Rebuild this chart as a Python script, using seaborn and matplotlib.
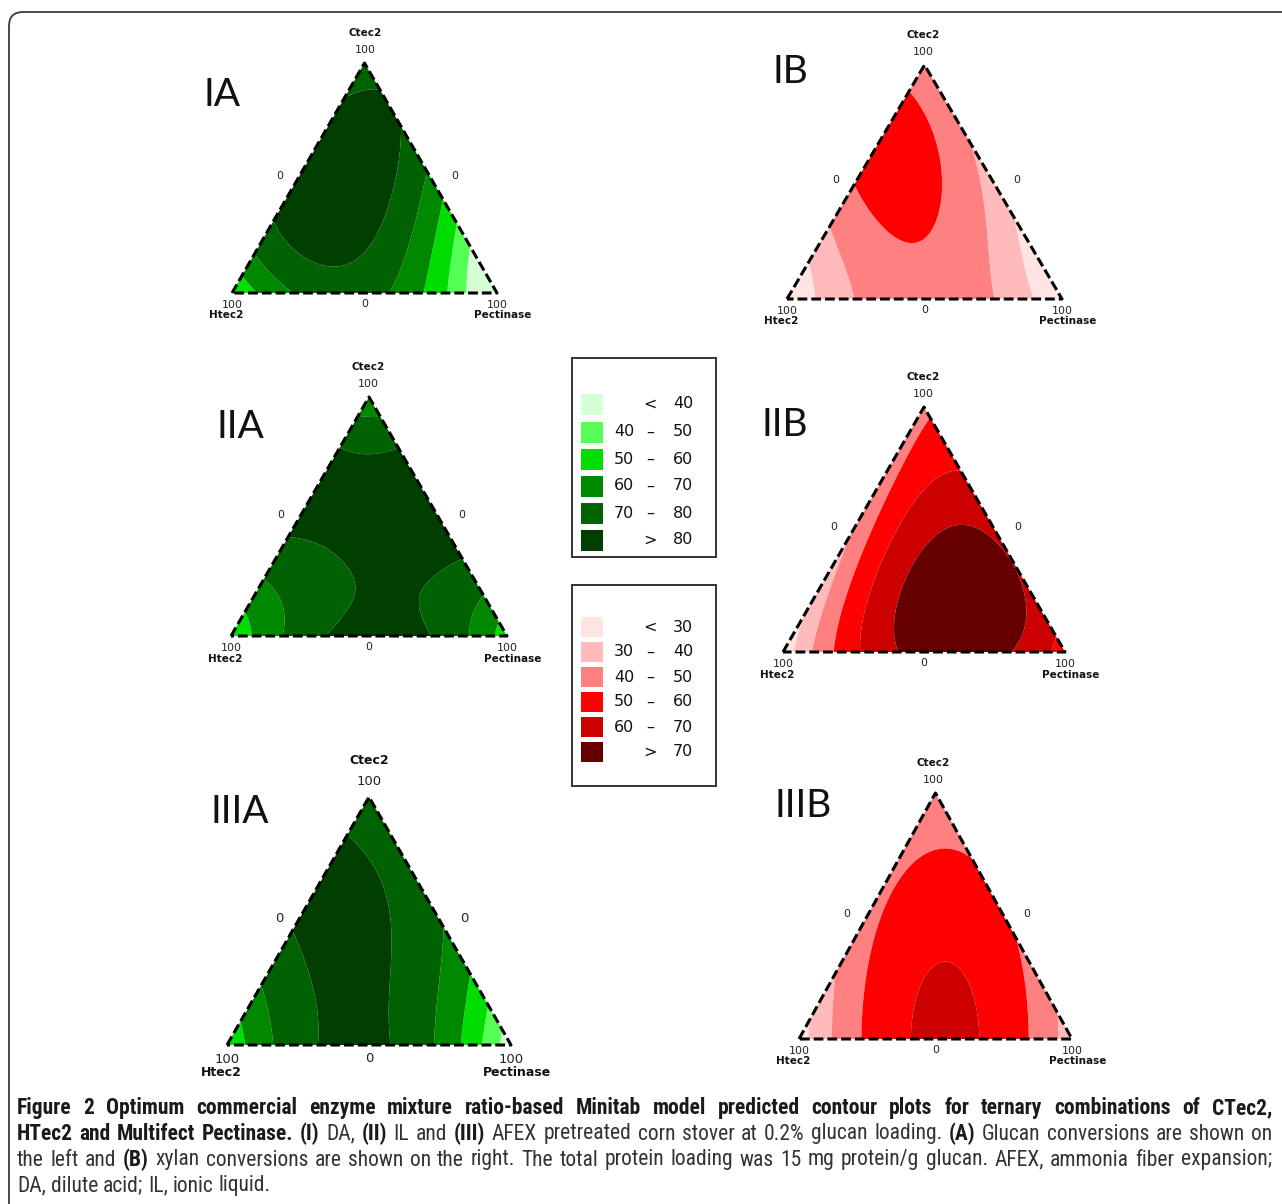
import numpy as np
import matplotlib
matplotlib.use("Agg")
import matplotlib.pyplot as plt
import matplotlib.tri as mtri
from matplotlib.patches import FancyBboxPatch, Rectangle
from matplotlib import font_manager
import seaborn as sns

# ── DATA ──────────────────────────────────────────────
# {3,3} simplex lattice + centroid (fractions of Ctec2, Htec2, Pectinase)
design_ctec = [1, 0, 0, 2/3, 1/3, 2/3, 1/3, 0, 0, 1/3]
design_htec = [0, 1, 0, 1/3, 2/3, 0, 0, 2/3, 1/3, 1/3]
design_pect = [0, 0, 1, 0, 0, 1/3, 2/3, 1/3, 2/3, 1/3]

# predicted conversions (%) at the design points
glucan_da = [74, 50, 20, 85, 81, 78, 53, 74, 65, 84]
xylan_da = [41, 20, 20, 55, 41.5, 40, 29.5, 44, 44, 51]
glucan_il = [61, 52, 54, 84, 76, 85, 80.5, 79.5, 82.5, 81.5]
xylan_il = [48, 24, 55, 44, 36, 63, 69.5, 65, 75, 73]
glucan_afex = [73, 52, 33, 83, 75, 75, 63, 80.5, 75, 82]
xylan_afex = [41.8, 25.4, 34.3, 47.9, 42.4, 50.9, 48.4, 56.8, 59.8, 59.6]

green_bounds = [40, 50, 60, 70, 80]
red_bounds = [30, 40, 50, 60, 70]
green_colors = ["#d5ffd5", "#55ff55", "#00dd00", "#008800", "#006200", "#003f00"]
red_colors = ["#ffe4e4", "#ffbbbb", "#ff8080", "#ff0000", "#cc0000", "#660000"]

panel_names = ["IA", "IB", "IIA", "IIB", "IIIA", "IIIB"]
panel_data = [glucan_da, xylan_da, glucan_il, xylan_il, glucan_afex, xylan_afex]
panel_scale = ["green", "red", "green", "red", "green", "red"]

caption_lines = [
    [("Figure 2 Optimum commercial enzyme mixture ratio-based Minitab model predicted contour plots for ternary combinations of CTec2,", True)],
    [("HTec2 and Multifect Pectinase.", True), ("(I)", True), ("DA,", False), ("(II)", True), ("IL and", False),
     ("(III)", True), ("AFEX pretreated corn stover at 0.2% glucan loading.", False), ("(A)", True),
     ("Glucan conversions are shown on", False)],
    [("the left and", False), ("(B)", True),
     ("xylan conversions are shown on the right. The total protein loading was 15 mg protein/g glucan. AFEX, ammonia fiber expansion;", False)],
    [("DA, dilute acid; IL, ionic liquid.", False)],
]

# ── LAYOUT (pixels) ───────────────────────────────────
W, H = 1282, 1204
# top vertex, bottom-left vertex, bottom-right vertex
panel_vertices = [
    ((365, 63), (232, 293), (497, 293)),
    ((923, 65), (787, 299), (1062, 299)),
    ((368, 397), (231, 636), (507, 636)),
    ((923, 407), (783, 652), (1065, 652)),
    ((369, 797), (227, 1045), (511, 1045)),
    ((933, 793), (799, 1039), (1072, 1039)),
]
panel_font = [7.5, 7.5, 7.5, 7.5, 9.0, 7.5]
panel_title_xy = [(222, 95), (790, 72), (240, 427), (785, 425), (240, 812), (803, 806)]

sns.set_theme(style="white")
plt.rcParams["font.family"] = ["DejaVu Sans"]

fig = plt.figure(figsize=(W / 100, H / 100), dpi=100)
bg = fig.add_axes([0, 0, 1, 1])
bg.set_xlim(0, W)
bg.set_ylim(H, 0)
bg.axis("off")

# outer frame with rounded corner
bg.add_patch(FancyBboxPatch((9, 12), 1500, 1500, boxstyle="round,pad=0,rounding_size=14",
                            fc="none", ec="#3a3a3a", lw=1.3))


def cubic_basis(c, h, p):
    return np.column_stack([c, h, p, c * h, c * p, h * p,
                            c * h * (c - h), c * p * (c - p), h * p * (h - p), c * h * p])


# fine ternary grid
n = 160
gc, gh = [], []
for i in range(n + 1):
    for j in range(n + 1 - i):
        gc.append(i / n)
        gh.append(j / n)
gc = np.array(gc)
gh = np.array(gh)
gp = np.clip(1 - gc - gh, 0, 1)
gx = gp + gc / 2
gy = gc * np.sqrt(3) / 2
tri = mtri.Triangulation(gx, gy)

X = cubic_basis(np.array(design_ctec), np.array(design_htec), np.array(design_pect))
h3 = np.sqrt(3) / 2

for name, resp, scale, verts, fs, txy in zip(panel_names, panel_data, panel_scale,
                                              panel_vertices, panel_font, panel_title_xy):
    (tx, ty), (lx, by), (rx, _) = verts
    coef = np.linalg.solve(X, np.array(resp, dtype=float))
    z = cubic_basis(gc, gh, gp) @ coef
    bounds = green_bounds if scale == "green" else red_bounds
    cols = green_colors if scale == "green" else red_colors
    ax = fig.add_axes([lx / W, 1 - by / H, (rx - lx) / W, (by - ty) / H])
    ax.tricontourf(tri, z, levels=[-1e3] + bounds + [1e3], colors=cols, antialiased=True)
    ax.plot([0, 0.5, 1, 0], [0, h3, 0, 0], color="black", lw=2.2,
            ls=(0, (3.2, 1.3)), clip_on=False, solid_capstyle="butt")
    ax.set_xlim(0, 1)
    ax.set_ylim(0, h3)
    ax.axis("off")

    # axis labels of the mixture triangle
    tk = dict(fontsize=fs * 1.05, color="#222222", ha="center", va="center")
    nm = dict(fontsize=fs, color="#111111", ha="center", va="center", fontweight="bold")
    bg.text(tx, ty - 4.0 * fs, "Ctec2", **nm)
    bg.text(tx, ty - 1.7 * fs, "100", **tk)
    bg.text((lx + tx) / 2 - 19, (by + ty) / 2 - 2, "0", **tk)
    bg.text((rx + tx) / 2 + 24, (by + ty) / 2 - 2, "0", **tk)
    bg.text(lx, by + 1.6 * fs, "100", **tk)
    bg.text(lx - 6, by + 3.0 * fs, "Htec2", **nm)
    bg.text((lx + rx) / 2, by + 1.5 * fs, "0", **tk)
    bg.text(rx, by + 1.6 * fs, "100", **tk)
    bg.text(rx + 6, by + 3.0 * fs, "Pectinase", **nm)

    bg.text(txy[0], txy[1], name, fontsize=28, family=["Lato", "DejaVu Sans"],
            ha="center", va="center", color="#111111")

# ── LEGENDS ───────────────────────────────────────────
def draw_legend(x0, y0, x1, y1, bounds, cols, row_y, sw_h):
    bg.add_patch(Rectangle((x0, y0), x1 - x0, y1 - y0, fc="white", ec="#333333", lw=1.4))
    lows = [None] + bounds
    highs = bounds + [None]
    for k, (lo, hi, col) in enumerate(zip(lows, highs, cols)):
        yy = row_y[k]
        bg.add_patch(Rectangle((x0 + 9, yy - sw_h / 2), 22, sw_h, fc=col, ec="none"))
        lt = dict(fontsize=11.5, color="#111111", va="center")
        if lo is None:
            bg.text(650, yy, "<", ha="center", **lt)
            bg.text(683, yy, str(hi), ha="center", **lt)
        elif hi is None:
            bg.text(650, yy, ">", ha="center", **lt)
            bg.text(683, yy, str(lo), ha="center", **lt)
        else:
            bg.text(624, yy, str(lo), ha="center", **lt)
            bg.text(650, yy, "\u2013", ha="center", **lt)
            bg.text(683, yy, str(hi), ha="center", **lt)


draw_legend(572, 358, 716, 557, green_bounds, green_colors, [404, 432, 459, 486, 513, 540], 21)
draw_legend(572, 585, 716, 786, red_bounds, red_colors, [627, 652, 677, 702, 727, 752], 20)

# ── CAPTION ───────────────────────────────────────────
names = {f.name for f in font_manager.fontManager.ttflist}
cond = any(f.name == "DejaVu Sans" and f.stretch == "condensed" for f in font_manager.fontManager.ttflist)
if "Liberation Sans Narrow" in names:
    cap_family, cap_stretch = "Liberation Sans Narrow", "normal"
elif "Roboto Condensed" in names:
    cap_family, cap_stretch = "Roboto Condensed", "normal"
elif cond:
    cap_family, cap_stretch = "DejaVu Sans", "condensed"
else:
    cap_family, cap_stretch = "Liberation Sans", "normal"

renderer = fig.canvas.get_renderer()


def text_width(s, bold, size):
    t = bg.text(0, 0, s, fontsize=size, family=cap_family, fontstretch=cap_stretch,
                fontweight="bold" if bold else "normal")
    w = t.get_window_extent(renderer).width
    t.remove()
    return w


def split_words(line):
    out = []
    for seg, bold in line:
        for w in seg.split(" "):
            out.append((w, bold))
    return out


cap_left, cap_right = 17, 1272
fs0 = 13.0
words1 = split_words(caption_lines[0])
sp0 = text_width("a a", True, fs0) - text_width("aa", True, fs0)
nat = sum(text_width(w, b, fs0) for w, b in words1) + sp0 * (len(words1) - 1)
cap_fs = min(15.5, fs0 * (cap_right - cap_left) / nat)
space_w = text_width("a a", False, cap_fs) - text_width("aa", False, cap_fs)

line_y = [1108, 1134, 1160, 1186]
for li, line in enumerate(caption_lines):
    words = split_words(line)
    widths = [text_width(w, b, cap_fs) for w, b in words]
    if li < len(caption_lines) - 1:
        gap = (cap_right - cap_left - sum(widths)) / (len(words) - 1)
    else:
        gap = space_w
    x = cap_left
    for (w, b), wd in zip(words, widths):
        bg.text(x, line_y[li], w, fontsize=cap_fs, family=cap_family, fontstretch=cap_stretch,
                fontweight="bold" if b else "normal", color="#1a1a1a" if b else "#333333",
                ha="left", va="center")
        x += wd + gap

fig.savefig("out.png", dpi=100)
